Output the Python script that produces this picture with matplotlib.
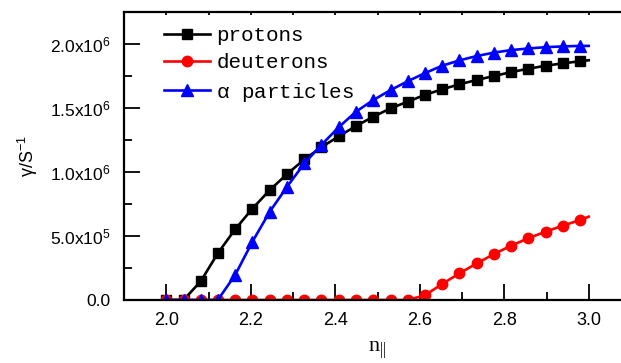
import matplotlib
matplotlib.use("Agg")
import matplotlib.pyplot as plt
from matplotlib.ticker import MultipleLocator

plt.rcParams['font.family'] = ['Liberation Sans', 'DejaVu Sans']
plt.rcParams['mathtext.fontset'] = 'custom'
plt.rcParams['mathtext.rm'] = 'Liberation Sans'
plt.rcParams['mathtext.it'] = 'Liberation Sans:italic'
plt.rcParams['mathtext.default'] = 'regular'

# parallel refractive index (last value closes the curve, no marker)
n_par = [2.000, 2.041, 2.082, 2.122, 2.163, 2.204, 2.245, 2.286, 2.327, 2.367,
         2.408, 2.449, 2.490, 2.531, 2.571, 2.612, 2.653, 2.694, 2.735, 2.776,
         2.816, 2.857, 2.898, 2.939, 2.980, 3.000]

# growth rates, 1e6 s^-1
protons = [0.0, 0.0, 0.148, 0.365, 0.552, 0.714, 0.859, 0.984, 1.099, 1.193,
           1.278, 1.359, 1.432, 1.497, 1.549, 1.602, 1.646, 1.685, 1.719, 1.750,
           1.780, 1.807, 1.830, 1.849, 1.865, 1.873]
deuterons = [0.0, 0.0, 0.0, 0.0, 0.0, 0.0, 0.0, 0.0, 0.0, 0.0,
             0.0, 0.0, 0.0, 0.0, 0.0, 0.036, 0.125, 0.208, 0.286, 0.359,
             0.424, 0.482, 0.534, 0.581, 0.625, 0.651]
alphas = [0.0, 0.0, 0.0, 0.0, 0.195, 0.456, 0.690, 0.885, 1.068, 1.211,
          1.349, 1.471, 1.562, 1.640, 1.708, 1.772, 1.830, 1.872, 1.906, 1.933,
          1.952, 1.965, 1.975, 1.981, 1.985, 1.985]

y_ticks = [0.0, 0.5e6, 1.0e6, 1.5e6, 2.0e6]
y_tick_labels = ['0.0', '5.0x10$^5$', '1.0x10$^6$', '1.5x10$^6$', '2.0x10$^6$']
x_ticks = [2.0, 2.2, 2.4, 2.6, 2.8, 3.0]

fig = plt.figure(figsize=(6.21, 3.63), dpi=100)
ax = fig.add_axes([0.1997, 0.1736, 0.8164, 0.7934])

marks = range(len(n_par) - 1)
series = [
    (protons, 'black', 's', 'protons'),
    (deuterons, 'red', 'o', 'deuterons'),
    (alphas, 'blue', '^', r'$\alpha$ particles'),
]
for vals, col, mk, lab in series:
    ax.plot(n_par, [v * 1e6 for v in vals], color=col, marker=mk, markevery=marks,
            lw=1.9, ms=7.5 if mk != '^' else 8.5, label=lab)

ax.set_xlim(1.9, 3.1)
ax.set_ylim(0, 2.25e6)
ax.set_xticks(x_ticks)
ax.set_xticklabels([f'{t:.1f}' for t in x_ticks])
ax.set_yticks(y_ticks)
ax.set_yticklabels(y_tick_labels)
ax.xaxis.set_minor_locator(MultipleLocator(0.1))
ax.yaxis.set_minor_locator(MultipleLocator(0.25e6))

ax.tick_params(which='major', direction='in', length=11.5, width=1.3, labelsize=12.5)
ax.tick_params(which='minor', direction='in', length=6, width=1.3)
ax.tick_params(axis='y', which='major', pad=10)
ax.tick_params(axis='x', which='major', pad=9, labelsize=13)
# short marks along the top edge
ax.tick_params(axis='x', which='both', top=True)
for t in ax.xaxis.get_major_ticks() + ax.xaxis.get_minor_ticks():
    t.tick2line.set_markersize(2.5)
for sp in ax.spines.values():
    sp.set_linewidth(1.6)

ax.set_ylabel(r'$\gamma$/S$^{-1}$', fontsize=13, labelpad=7)
ax.set_xlabel('n$_{||}$', fontsize=16, family='Liberation Serif', labelpad=7)

leg = ax.legend(loc='upper left', bbox_to_anchor=(0.055, 0.995), frameon=False,
                prop={'family': 'Liberation Mono', 'size': 15},
                handlelength=2.2, handletextpad=0.3, labelspacing=0.4,
                borderaxespad=0.2)

fig.savefig('out.png', dpi=100)
